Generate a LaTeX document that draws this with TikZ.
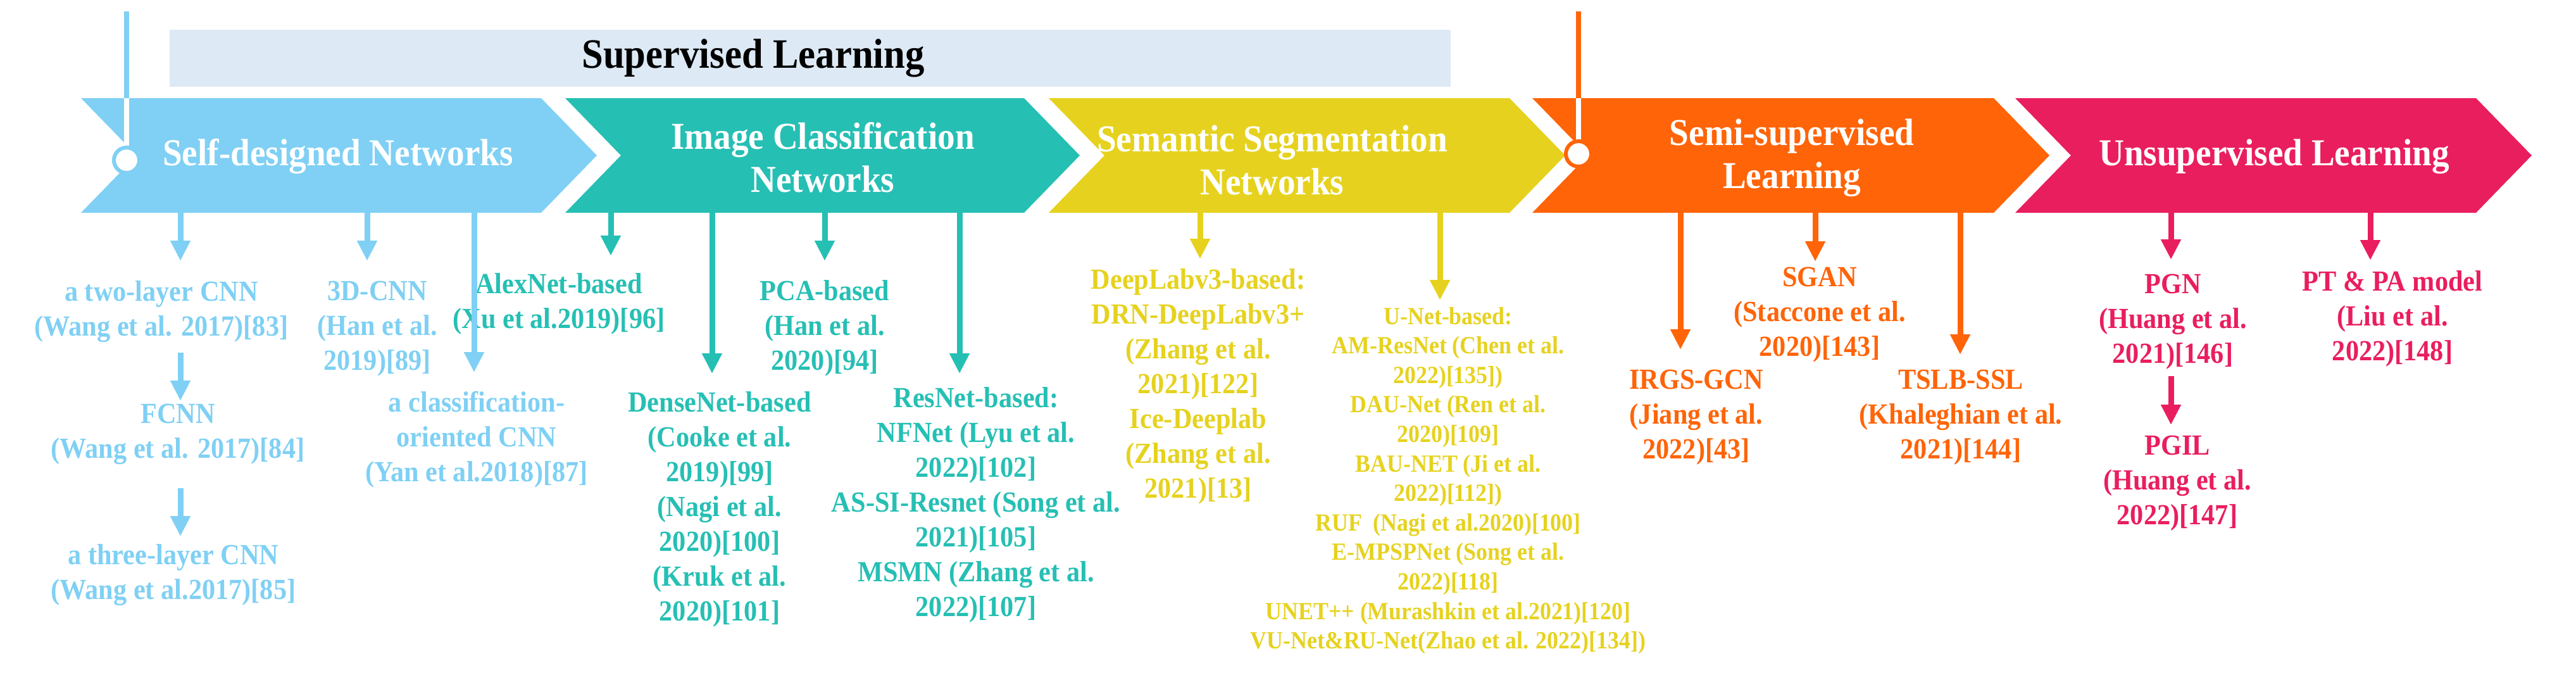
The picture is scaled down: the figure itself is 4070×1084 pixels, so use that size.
\documentclass[tikz,border=0pt]{standalone}
\usepackage{fontspec}
\setmainfont{Liberation Serif}
\newfontfamily\cf[FakeStretch=0.92]{Liberation Serif}
\usetikzlibrary{arrows.meta}
\definecolor{cblue}{HTML}{7FD0F4}
\definecolor{cgreen}{HTML}{26BFB4}
\definecolor{cyel}{HTML}{E6D21E}
\definecolor{corg}{HTML}{FF6408}
\definecolor{cpink}{HTML}{E91E5E}
\definecolor{cbox}{HTML}{DDE9F5}
\tikzset{
  lab/.style={align=center,inner sep=0pt,font=\cf\bfseries\fontsize{23}{27.5}\selectfont},
  small/.style={align=center,inner sep=0pt,font=\cf\bfseries\fontsize{19.5}{23.3}\selectfont},
  head/.style={align=center,inner sep=0pt,text=white,font=\cf\bfseries\fontsize{30}{34}\selectfont},
  arr/.style={line width=4.5pt,-{Triangle[length=16pt,width=15pt]}},
}
\newcommand\chev[3]{\fill[#3] (#1,155) -- (#2,155) -- ({#2+88},245.5) -- (#2,336) -- (#1,336) -- ({#1+88},245.5) -- cycle;}
\begin{document}
\begin{tikzpicture}[x=0.5pt,y=-0.5pt]
\useasboundingbox (0,0) rectangle (4070,1084);
\fill[cbox] (268,47) rectangle (2292,137);
\node[font=\cf\bfseries\fontsize{33}{38}\selectfont] (sup) at (1190,92) {Supervised Learning};
\chev{128}{855}{cblue}
\chev{893}{1618}{cgreen}
\chev{1657}{2385}{cyel}
\chev{2421}{3150}{corg}
\chev{3184}{3912}{cpink}
% timeline markers
\draw[cblue,line width=4pt] (200,18) -- (200,155);
\draw[white,line width=4pt] (200,155) -- (200,233);
\draw[cblue,line width=3pt,fill=white] (200,253) circle[radius=20];
\draw[corg,line width=4pt] (2494,18) -- (2494,155);
\draw[white,line width=4pt] (2494,155) -- (2494,223);
\draw[corg,line width=3pt,fill=white] (2494,243) circle[radius=20];
% headings
\node[head] (h1) at (534,247) {Self-designed Networks};
\node[head] (h2) at (1300,249) {Image Classification\\Networks};
\node[head] (h3) at (2010,253) {Semantic Segmentation\\Networks};
\node[head] (h4) at (2831,249) {Semi-supervised\\Learning};
\node[head] (h5) at (3593,247) {Unsupervised Learning};
% blue
\node[lab,text=cblue] (b1) at (255,492) {a two-layer CNN\\(Wang et al. 2017)[83]};
\node[lab,text=cblue] (b2) at (281,686) {FCNN\\(Wang et al. 2017)[84]};
\node[lab,text=cblue] (b3) at (274,908) {a three-layer CNN\\(Wang et al.2017)[85]};
\node[lab,text=cblue] (b4) at (596,519) {3D-CNN\\(Han et al.\\2019)[89]};
\node[lab,text=cblue] (b5) at (753,694) {a classification-\\oriented CNN\\(Yan et al.2018)[87]};
% green
\node[lab,text=cgreen] (g1) at (883,480) {AlexNet-based\\(Xu et al.2019)[96]};
\node[lab,text=cgreen] (g2) at (1303,518) {PCA-based\\(Han et al.\\2020)[94]};
\node[lab,text=cgreen] (g3) at (1137,804) {DenseNet-based\\(Cooke et al.\\2019)[99]\\(Nagi et al.\\2020)[100]\\(Kruk et al.\\2020)[101]};
\node[lab,text=cgreen] (g4) at (1542,797) {ResNet-based:\\NFNet (Lyu et al.\\2022)[102]\\AS-SI-Resnet (Song et al.\\2021)[105]\\MSMN (Zhang et al.\\2022)[107]};
% yellow
\node[lab,text=cyel] (y1) at (1893,610) {DeepLabv3-based:\\DRN-DeepLabv3+\\(Zhang et al.\\2021)[122]\\Ice-Deeplab\\(Zhang et al.\\2021)[13]};
\node[small,text=cyel] (y2) at (2288,759) {U-Net-based:\\AM-ResNet (Chen et al.\\2022)[135])\\DAU-Net (Ren et al.\\2020)[109]\\BAU-NET (Ji et al.\\2022)[112])\\RUF\ \ (Nagi et al.2020)[100]\\E-MPSPNet (Song et al.\\2022)[118]\\UNET++ (Murashkin et al.2021)[120]\\VU-Net\&RU-Net(Zhao et al. 2022)[134])};
% orange
\node[lab,text=corg] (o1) at (2680,659) {IRGS-GCN\\(Jiang et al.\\2022)[43]};
\node[lab,text=corg] (o2) at (2875,497) {SGAN\\(Staccone et al.\\2020)[143]};
\node[lab,text=corg] (o3) at (3098,659) {TSLB-SSL\\(Khaleghian et al.\\2021)[144]};
% pink
\node[lab,text=cpink] (p1) at (3433,508) {PGN\\(Huang et al.\\2021)[146]};
\node[lab,text=cpink] (p2) at (3440,763) {PGIL\\(Huang et al.\\2022)[147]};
\node[lab,text=cpink] (p3) at (3780,503) {PT \& PA model\\(Liu et al.\\2022)[148]};
% arrows
\draw[arr,cblue] (285,336) -- (285,412);
\draw[arr,cblue] (580,336) -- (580,412);
\draw[arr,cblue] (749,336) -- (749,588);
\draw[arr,cblue] (285,557) -- (285,633);
\draw[arr,cblue] (285,771) -- (285,847);
\draw[arr,cgreen] (965,336) -- (965,404);
\draw[arr,cgreen] (1125,336) -- (1125,590);
\draw[arr,cgreen] (1303,336) -- (1303,412);
\draw[arr,cgreen] (1516,336) -- (1516,590);
\draw[arr,cyel] (1896,336) -- (1896,409);
\draw[arr,cyel] (2275,336) -- (2275,474);
\draw[arr,corg] (2655,336) -- (2655,552);
\draw[arr,corg] (2868,336) -- (2868,413);
\draw[arr,corg] (3097,336) -- (3097,560);
\draw[arr,cpink] (3430,336) -- (3430,410);
\draw[arr,cpink] (3745,336) -- (3745,411);
\draw[arr,cpink] (3430,594) -- (3430,671);
\end{tikzpicture}
\end{document}
